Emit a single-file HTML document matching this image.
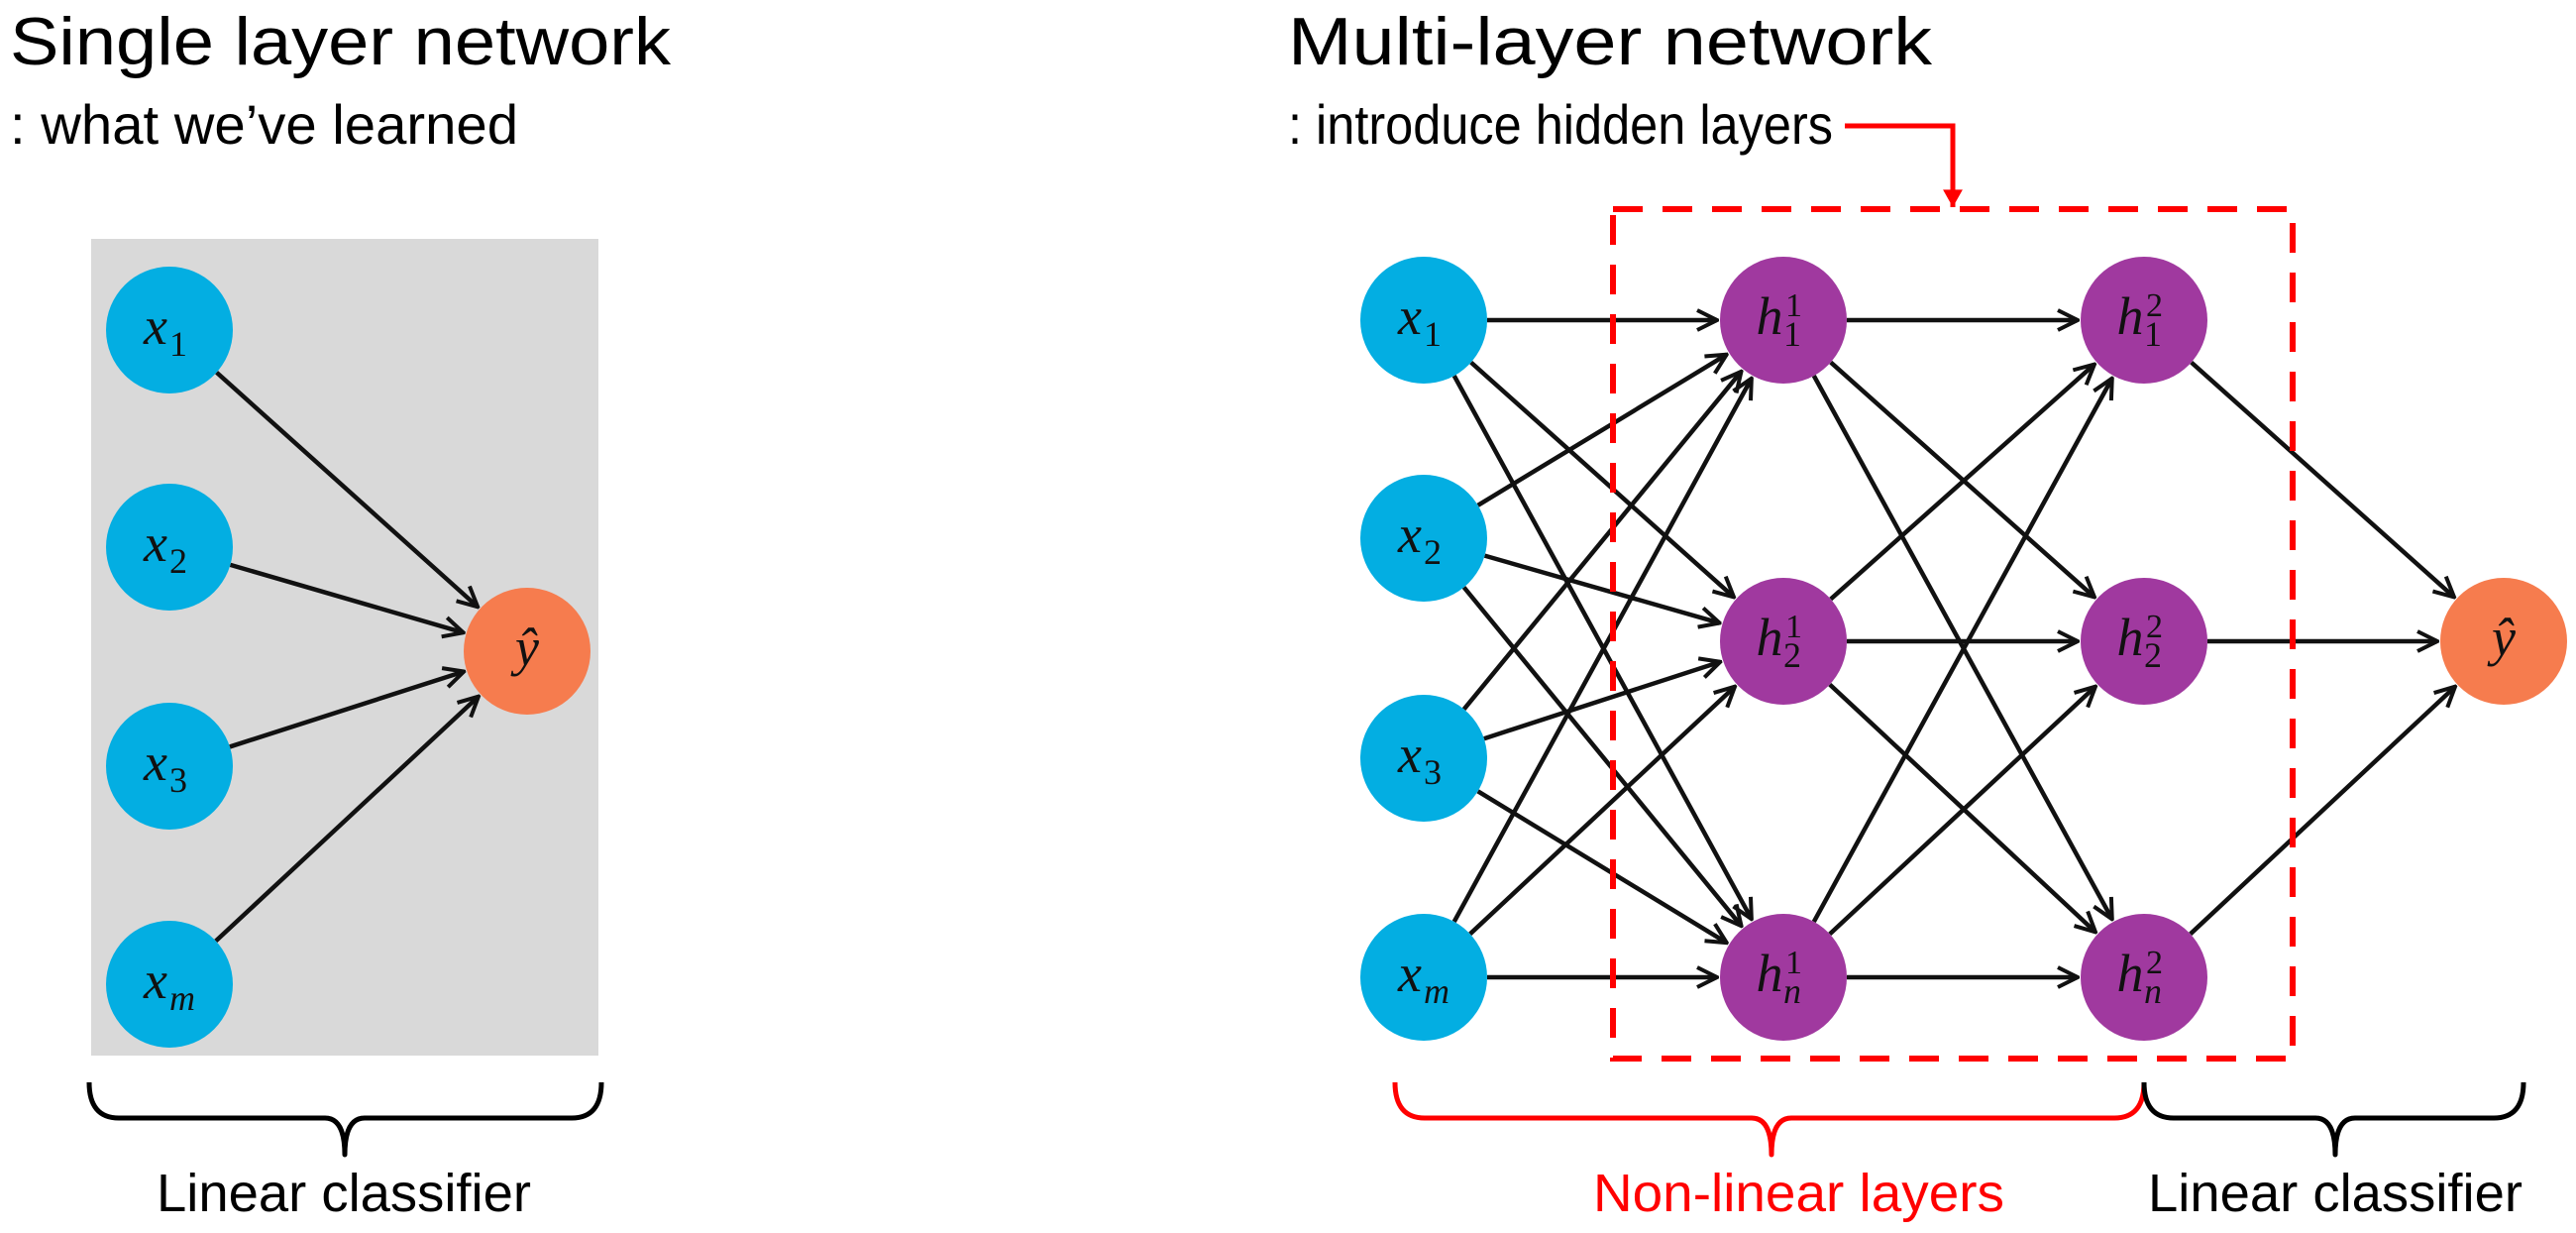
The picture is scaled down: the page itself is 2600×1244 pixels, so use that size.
<!DOCTYPE html>
<html><head><meta charset="utf-8"><style>
html,body{margin:0;padding:0;background:#fff;}
svg{display:block}
</style></head><body>
<svg id="s" xmlns="http://www.w3.org/2000/svg" width="2600" height="1244" viewBox="0 0 2600 1244">
<defs>
<marker id="ah" viewBox="0 0 24 24" refX="22" refY="12" markerWidth="24" markerHeight="24" markerUnits="userSpaceOnUse" orient="auto">
<path d="M2,2 L22,12 L2,22" fill="none" stroke="#111" stroke-width="4"/>
</marker>
<marker id="rh" viewBox="0 0 20 20" refX="10" refY="18" markerWidth="22" markerHeight="22" markerUnits="userSpaceOnUse" orient="0">
<path d="M1,2 L10,18 L19,2 Z" fill="#f00"/>
</marker>
</defs>
<g font-family="Liberation Sans, sans-serif" fill="#000">
<text x="10" y="65" font-size="68" textLength="667" lengthAdjust="spacingAndGlyphs">Single layer network</text>
<text x="10" y="145" font-size="56" textLength="513" lengthAdjust="spacingAndGlyphs">: what we’ve learned</text>
<text x="1300" y="65" font-size="68" textLength="650" lengthAdjust="spacingAndGlyphs">Multi-layer network</text>
<text x="1300" y="145" font-size="56" textLength="550" lengthAdjust="spacingAndGlyphs">: introduce hidden layers</text>
<text x="158" y="1222" font-size="54" textLength="378" lengthAdjust="spacingAndGlyphs">Linear classifier</text>
<text x="2168" y="1222" font-size="54" textLength="378" lengthAdjust="spacingAndGlyphs">Linear classifier</text>
<text x="1608" y="1222" font-size="54" fill="#f00" textLength="415" lengthAdjust="spacingAndGlyphs">Non-linear layers</text>
</g>
<rect x="92" y="241" width="512" height="824" fill="#d9d9d9"/>
<g id="edges" stroke="#111" stroke-width="4.5" fill="none"></g>
<g id="nodes"></g>
<rect x="1628" y="211" width="686" height="857" fill="none" stroke="#f00" stroke-width="6" stroke-dasharray="30,20"/>
<path d="M1862,127 L1971,127 L1971,209" fill="none" stroke="#f00" stroke-width="5" marker-end="url(#rh)"/>
<g fill="none" stroke-width="5" stroke-linejoin="round">
<path d="M90,1092 Q90,1128 120,1128 L328,1128 Q348,1128 348,1165 Q348,1128 368,1128 L577,1128 Q607,1128 607,1092" stroke="#000"/>
<path d="M1408,1092 Q1408,1128 1438,1128 L1768,1128 Q1788,1128 1788,1165 Q1788,1128 1808,1128 L2134,1128 Q2164,1128 2164,1092" stroke="#f00"/>
<path d="M2164,1092 Q2164,1128 2194,1128 L2337,1128 Q2357,1128 2357,1165 Q2357,1128 2377,1128 L2517,1128 Q2547,1128 2547,1092" stroke="#000"/>
</g>
</svg>
<script>
(function(){
var NS="http://www.w3.org/2000/svg";
var E=document.getElementById("edges"),N=document.getElementById("nodes");
var R=64;
var BLUE="#03aee2",PURP="#a0399f",ORNG="#f67c4e";
function node(x,y,c,base,sub,sup){
 var ci=document.createElementNS(NS,"circle");
 ci.setAttribute("cx",x);ci.setAttribute("cy",y);ci.setAttribute("r",R);ci.setAttribute("fill",c);N.appendChild(ci);
 var t=document.createElementNS(NS,"text");
 t.setAttribute("font-family","Liberation Serif, serif");
 t.setAttribute("font-style","italic");t.setAttribute("fill","#111");
 t.setAttribute("font-size","54");
 var bx=x-(sub||sup?14:0);
 t.setAttribute("x",bx);t.setAttribute("y",y+14);t.setAttribute("text-anchor","middle");
 t.textContent=base;N.appendChild(t);
 if(sup){var s=document.createElementNS(NS,"text");s.setAttribute("font-family","Liberation Serif, serif");s.setAttribute("font-size","34");s.setAttribute("fill","#111");s.setAttribute("x",bx+16);s.setAttribute("y",y-4);s.textContent=sup;N.appendChild(s);}
 if(sub){var s2=document.createElementNS(NS,"text");s2.setAttribute("font-family","Liberation Serif, serif");s2.setAttribute("font-size","36");s2.setAttribute("fill","#111");
  if(sub=="m"||sub=="n")s2.setAttribute("font-style","italic");
  s2.setAttribute("x",bx+14);s2.setAttribute("y",y+26);s2.textContent=sub;N.appendChild(s2);}
}
function edge(a,b){
 var dx=b[0]-a[0],dy=b[1]-a[1],L=Math.sqrt(dx*dx+dy*dy),ux=dx/L,uy=dy/L;
 var l=document.createElementNS(NS,"line");
 l.setAttribute("x1",a[0]+ux*R);l.setAttribute("y1",a[1]+uy*R);
 l.setAttribute("x2",b[0]-ux*(R+3));l.setAttribute("y2",b[1]-uy*(R+3));
 l.setAttribute("marker-end","url(#ah)");E.appendChild(l);
}
var LX=[[171,333],[171,552],[171,773],[171,993]],LY=[532,657];
LX.forEach(function(p){edge(p,LY);});
node(171,333,BLUE,"x","1");node(171,552,BLUE,"x","2");node(171,773,BLUE,"x","3");node(171,993,BLUE,"x","m");
node(532,657,ORNG,"ŷ");
var xs=[[1437,323],[1437,543],[1437,765],[1437,986]];
var hy=[323,647,986];
var h1=hy.map(function(y){return[1800,y];}),h2=hy.map(function(y){return[2164,y];});
var Y=[2527,647];
xs.forEach(function(a){h1.forEach(function(b){edge(a,b);});});
h1.forEach(function(a){h2.forEach(function(b){edge(a,b);});});
h2.forEach(function(a){edge(a,Y);});
var xl=["1","2","3","m"];
xs.forEach(function(p,i){node(p[0],p[1],BLUE,"x",xl[i]);});
var hl=["1","2","n"];
h1.forEach(function(p,i){node(p[0],p[1],PURP,"h",hl[i],"1");});
h2.forEach(function(p,i){node(p[0],p[1],PURP,"h",hl[i],"2");});
node(2527,647,ORNG,"ŷ");
})();
</script>
</body></html>
